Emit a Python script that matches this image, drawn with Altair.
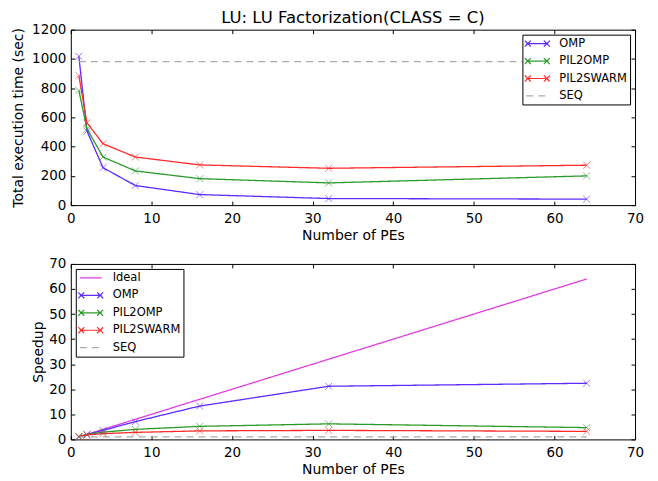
import altair as alt
import pandas as pd

# ---------------- data ----------------
pes = [1, 2, 4, 8, 16, 32, 64]

time_omp = [1018, 507, 256, 134, 72, 45, 41]
time_pil2omp = [784, 522, 329, 234, 181, 152, 200]
time_pil2swarm = [886, 563, 420, 329, 275, 252, 273]
time_seq = [982, 982, 982, 982, 982, 982, 982]

speedup_ideal = [1, 2, 4, 8, 16, 32, 64]
speedup_omp = [0.97, 1.95, 3.6, 7.1, 13.3, 21.2, 22.4]
speedup_pil2omp = [1.25, 1.88, 2.9, 4.0, 5.2, 6.2, 4.7]
speedup_pil2swarm = [1.1, 1.75, 2.3, 2.8, 3.4, 3.6, 3.2]
speedup_seq = [1, 1, 1, 1, 1, 1, 1]

x_ticks = [0, 10, 20, 30, 40, 50, 60, 70]
time_ticks = [0, 200, 400, 600, 800, 1000, 1200]
speedup_ticks = [0, 10, 20, 30, 40, 50, 60, 70]

series_top = ["OMP", "PIL2OMP", "PIL2SWARM", "SEQ"]
series_bot = ["Ideal", "OMP", "PIL2OMP", "PIL2SWARM", "SEQ"]
marker_series = ["OMP", "PIL2OMP", "PIL2SWARM"]

# ---------------- styling ----------------
FONT = "DejaVu Sans"
colors = {"Ideal": "#e03ce0", "OMP": "#5b2bff", "PIL2OMP": "#2a9a2a",
          "PIL2SWARM": "#ff2b2b", "SEQ": "#aaaaaa"}
XPATH = "M-1,-1L1,1M-1,1L1,-1"
# legend glyphs (symbolSize 100 -> 1 unit = 5 px)
LEG_MARK = ("M-2.2,0L2.2,0"
            "M-2.5,-0.6L-1.3,0.6M-2.5,0.6L-1.3,-0.6"
            "M1.3,-0.6L2.5,0.6M1.3,0.6L2.5,-0.6")
LEG_LINE = "M-2.2,0L2.2,0"
LEG_DASH = "M-2.2,0L-0.8,0M0.2,0L1.6,0"


def legend_path(s):
    if s == "SEQ":
        return LEG_DASH
    if s == "Ideal":
        return LEG_LINE
    return LEG_MARK


def long_df(names, arrays):
    rows = []
    for n, arr in zip(names, arrays):
        for p, v in zip(pes, arr):
            rows.append({"series": n, "pes": p, "value": v})
    return pd.DataFrame(rows)


top_df = long_df(series_top, [time_omp, time_pil2omp, time_pil2swarm, time_seq])
bot_df = long_df(series_bot, [speedup_ideal, speedup_omp, speedup_pil2omp,
                              speedup_pil2swarm, speedup_seq])


def tick_axis(orient, values):
    return alt.Axis(orient=orient, values=values, labels=False, domain=False,
                    ticks=True, tickSize=4, offset=-4, title=None, grid=False,
                    tickColor="black", tickWidth=1)


def panel(df, domain, ytitle, yticks, ymax, legend_orient, ytitle_pad):
    xs = alt.Scale(domain=[0, 70], nice=False, zero=False)
    ys = alt.Scale(domain=[0, ymax], nice=False)
    cs = alt.Scale(domain=domain, range=[colors[s] for s in domain])
    ds = alt.Scale(domain=domain,
                   range=[[7, 5] if s == "SEQ" else [1, 0] for s in domain])
    ss = alt.Scale(domain=domain, range=[legend_path(s) for s in domain])
    base = alt.Chart(df)

    leg = alt.Legend(orient=legend_orient, offset=5, title=None, strokeColor="black",
                     fillColor="white", padding=3, symbolSize=100, symbolOpacity=1,
                     symbolOffset=6, symbolStrokeWidth=1.2, labelFontSize=11.5,
                     labelFont=FONT, labelColor="black", rowPadding=5.5,
                     labelOffset=16, cornerRadius=0)
    # invisible layer that only carries the legend and the top/right inward ticks
    lg = base.mark_point(filled=False, strokeWidth=1.2, opacity=0).encode(
        x=alt.X("pes:Q", scale=xs, axis=tick_axis("top", x_ticks)),
        y=alt.Y("value:Q", scale=ys, axis=tick_axis("right", yticks)),
        color=alt.Color("series:N", scale=cs, legend=leg),
        shape=alt.Shape("series:N", scale=ss, legend=leg),
    )

    line = base.mark_line(strokeWidth=1.3).encode(
        x=alt.X("pes:Q", scale=xs,
                axis=alt.Axis(orient="bottom", values=x_ticks, title="Number of PEs",
                              ticks=False, tickSize=0, domain=False, grid=False,
                              labelPadding=6, labelFlush=False, titlePadding=4)),
        y=alt.Y("value:Q", scale=ys,
                axis=alt.Axis(orient="left", values=yticks, title=ytitle,
                              ticks=False, tickSize=0, domain=False, grid=False,
                              labelPadding=5, labelFlush=False,
                              titlePadding=ytitle_pad, format="d")),
        color=alt.Color("series:N", scale=cs),
        strokeDash=alt.StrokeDash("series:N", scale=ds, legend=None),
    )

    pts = base.transform_filter(
        alt.FieldOneOfPredicate(field="series", oneOf=marker_series)
    ).mark_point(shape=XPATH, size=49, filled=False, strokeWidth=1, opacity=0.6).encode(
        x=alt.X("pes:Q", scale=xs, axis=tick_axis("bottom", x_ticks)),
        y=alt.Y("value:Q", scale=ys, axis=tick_axis("left", yticks)),
        color=alt.Color("series:N", scale=cs),
    )

    return alt.layer(lg, line, pts).resolve_axis(x="independent", y="independent")


top = panel(top_df, series_top, "Total execution time (sec)", time_ticks, 1200,
            "top-right", 6).properties(
    width=566, height=176,
    title=alt.TitleParams("LU: LU Factorization(CLASS = C)", fontSize=16.5, font=FONT,
                          fontWeight="normal", color="black", offset=-5, dy=-1.5,
                          anchor="middle"))
bot = panel(bot_df, series_bot, "Speedup", speedup_ticks, 70,
            "top-left", 3).properties(width=566, height=176)

chart = alt.vconcat(top, bot, spacing=13).resolve_scale(
    color="independent", strokeDash="independent", shape="independent"
).resolve_legend(color="independent", shape="independent"
).configure(
    padding={"left": 3, "top": 0, "right": 5, "bottom": 5}, background="white"
).configure_view(stroke="black", strokeWidth=1).configure_axis(
    labelFont=FONT, titleFont=FONT, labelFontSize=13.5, titleFontSize=14,
    labelColor="black", titleColor="black", titleFontWeight="normal"
)

chart.save("out.html", embed_options={"renderer": "svg", "actions": False})
